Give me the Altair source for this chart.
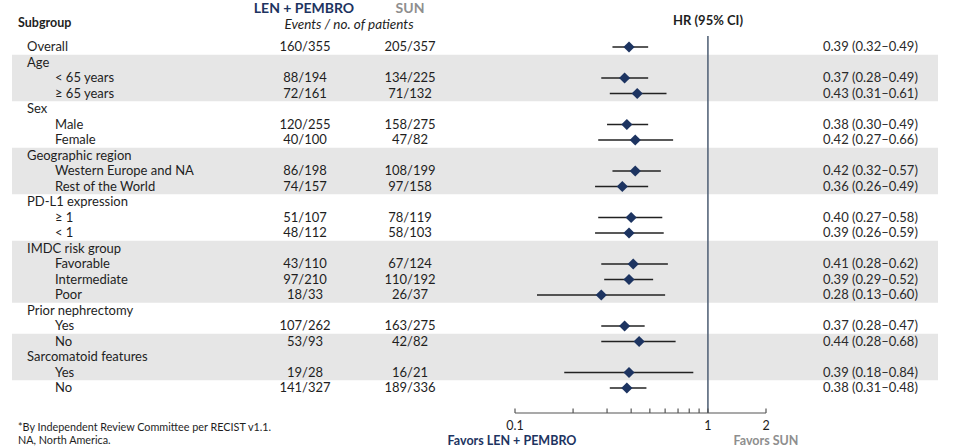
import altair as alt
import pandas as pd

# Subgroup rows (top to bottom); level 0 = group heading, 1 = subgroup
labels = ["Overall", "Age", "< 65 years", "≥ 65 years", "Sex", "Male", "Female",
          "Geographic region", "Western Europe and NA", "Rest of the World",
          "PD-L1 expression", "≥ 1", "< 1", "IMDC risk group", "Favorable",
          "Intermediate", "Poor", "Prior nephrectomy", "Yes", "No",
          "Sarcomatoid features", "Yes", "No"]
level = [0, 0, 1, 1, 0, 1, 1, 0, 1, 1, 0, 1, 1, 0, 1, 1, 1, 0, 1, 1, 0, 1, 1]

len_events = ["160/355", "", "88/194", "72/161", "", "120/255", "40/100", "",
              "86/198", "74/157", "", "51/107", "48/112", "", "43/110", "97/210",
              "18/33", "", "107/262", "53/93", "", "19/28", "141/327"]
sun_events = ["205/357", "", "134/225", "71/132", "", "158/275", "47/82", "",
              "108/199", "97/158", "", "78/119", "58/103", "", "67/124", "110/192",
              "26/37", "", "163/275", "42/82", "", "16/21", "189/336"]

hr = [0.39, None, 0.37, 0.43, None, 0.38, 0.42, None, 0.42, 0.36, None, 0.40, 0.39,
      None, 0.41, 0.39, 0.28, None, 0.37, 0.44, None, 0.39, 0.38]
ci_lo = [0.32, None, 0.28, 0.31, None, 0.30, 0.27, None, 0.32, 0.26, None, 0.27, 0.26,
         None, 0.28, 0.29, 0.13, None, 0.28, 0.28, None, 0.18, 0.31]
ci_hi = [0.49, None, 0.49, 0.61, None, 0.49, 0.66, None, 0.57, 0.49, None, 0.58, 0.59,
         None, 0.62, 0.52, 0.60, None, 0.47, 0.68, None, 0.84, 0.48]

# Shaded blocks of rows (first row, last row)
band_first = [1, 7, 13, 19]
band_last = [3, 9, 16, 21]

axis_ticks = [0.1, 0.2, 0.3, 0.4, 0.5, 0.6, 0.7, 0.8, 0.9, 1, 2]
axis_labels = [0.1, 1, 2]

NAVY = "#1d3461"
GREY = "#8e8e8e"
TEXT = "#1e1e1e"
FONT = "Lato"
BASE = 13

rows = pd.DataFrame({
    "row": list(range(len(labels))),
    "label": labels,
    "level": level,
    "len_ev": len_events,
    "sun_ev": sun_events,
    "hr": hr,
    "lo": ci_lo,
    "hi": ci_hi,
})
est = rows.dropna(subset=["hr"]).copy()
est["hr_text"] = [f"{h:.2f} ({l:.2f}–{u:.2f})" for h, l, u in zip(est.hr, est.lo, est.hi)]

bands = pd.DataFrame({"first": band_first, "last": band_last})
bands["y0"] = bands["first"] - 0.5
bands["y1"] = bands["last"] + 0.5

yscale = alt.Scale(domain=[0, len(labels) - 1], range=[47, 388], nice=False, zero=False)
xscale = alt.Scale(type="log", domain=[0.1, 2], range=[515, 766], nice=False)

band_layer = alt.Chart(bands).mark_rect(color="#e6e6e6").encode(
    x=alt.value(12), x2=alt.value(938),
    y=alt.Y("y0:Q", scale=yscale, axis=None), y2="y1:Q",
)

ref_layer = alt.Chart(pd.DataFrame({"v": [1]})).mark_rule(
    color="#56667a", strokeWidth=1.6
).encode(
    x=alt.X("v:Q", scale=xscale, axis=None), y=alt.value(36), y2=alt.value(413),
)

axis_line = alt.Chart(pd.DataFrame({"a": [min(axis_ticks)], "b": [max(axis_ticks)]})).mark_rule(
    color="#555555", strokeWidth=1.2
).encode(
    x=alt.X("a:Q", scale=xscale, axis=None), x2="b:Q", y=alt.value(413),
)

tick_layer = alt.Chart(pd.DataFrame({"t": axis_ticks})).mark_rule(
    color="#555555", strokeWidth=1.2
).encode(
    x=alt.X("t:Q", scale=xscale, axis=None), y=alt.value(408.5), y2=alt.value(413),
)

tick_text = alt.Chart(pd.DataFrame({"t": axis_labels, "s": [str(v) for v in axis_labels]})).mark_text(
    font=FONT, fontSize=12.5, color=TEXT, baseline="middle"
).encode(
    x=alt.X("t:Q", scale=xscale, axis=None), y=alt.value(425.5), text="s:N",
)

ci_layer = alt.Chart(est).mark_rule(color="#222222", strokeWidth=1.5).encode(
    x=alt.X("lo:Q", scale=xscale, axis=None), x2="hi:Q",
    y=alt.Y("row:Q", scale=yscale, axis=None),
)

diamond_layer = alt.Chart(est).mark_point(
    shape="diamond", filled=True, opacity=1, color=NAVY, size=125
).encode(
    x=alt.X("hr:Q", scale=xscale, axis=None),
    y=alt.Y("row:Q", scale=yscale, axis=None),
)


def row_text(df, field, x, align="left", color=TEXT):
    return alt.Chart(df).mark_text(
        font=FONT, fontSize=BASE, color=color, align=align, baseline="middle",
    ).encode(
        x=alt.value(x), y=alt.Y("row:Q", scale=yscale, axis=None), text=f"{field}:N",
    )


heads = rows[rows.level == 0]
subs = rows[rows.level == 1]
ev = rows[rows.len_ev != ""]

label_head = row_text(heads, "label", 27)
label_sub = row_text(subs, "label", 55)
len_col = row_text(ev, "len_ev", 305, align="center")
sun_col = row_text(ev, "sun_ev", 410, align="center")
hr_col = row_text(est, "hr_text", 823, color="#2a2a2a")


def fixed_text(s, x, y, align="left", size=BASE, color=TEXT, weight="normal", style="normal"):
    return alt.Chart(pd.DataFrame({"s": [s]})).mark_text(
        font=FONT, fontSize=size, color=color, align=align, baseline="middle",
        fontWeight=weight, fontStyle=style,
    ).encode(x=alt.value(x), y=alt.value(y), text="s:N")


headers = [
    fixed_text("Subgroup", 18, 23, weight="bold", size=12.5),
    fixed_text("LEN + PEMBRO", 304, 9, align="center", color=NAVY, weight="bold", size=14),
    fixed_text("SUN", 410, 9, align="center", color=GREY, weight="bold", size=14),
    fixed_text("Events / no. of patients", 349, 25, align="center", style="italic", size=13.5),
    fixed_text("HR (95% CI)", 708, 21, align="center", weight="bold", size=13),
    fixed_text("Favors LEN + PEMBRO", 512, 441, align="center", color=NAVY, weight="bold", size=12.5),
    fixed_text("Favors SUN", 766, 441, align="center", color=GREY, weight="bold", size=12.5),
    fixed_text("*By Independent Review Committee per RECIST v1.1.", 18, 428, size=10.8),
    fixed_text("NA, North America.", 18, 441, size=10.8),
]

chart = alt.layer(
    band_layer, ref_layer, axis_line, tick_layer, tick_text,
    ci_layer, diamond_layer,
    label_head, label_sub, len_col, sun_col, hr_col,
    *headers,
).properties(
    width=960, height=447, padding=0,
    autosize=alt.AutoSizeParams(type="none"),
    background="white",
).configure_view(stroke=None)

chart.save("out.html", embed_options={"renderer": "svg", "actions": False})
